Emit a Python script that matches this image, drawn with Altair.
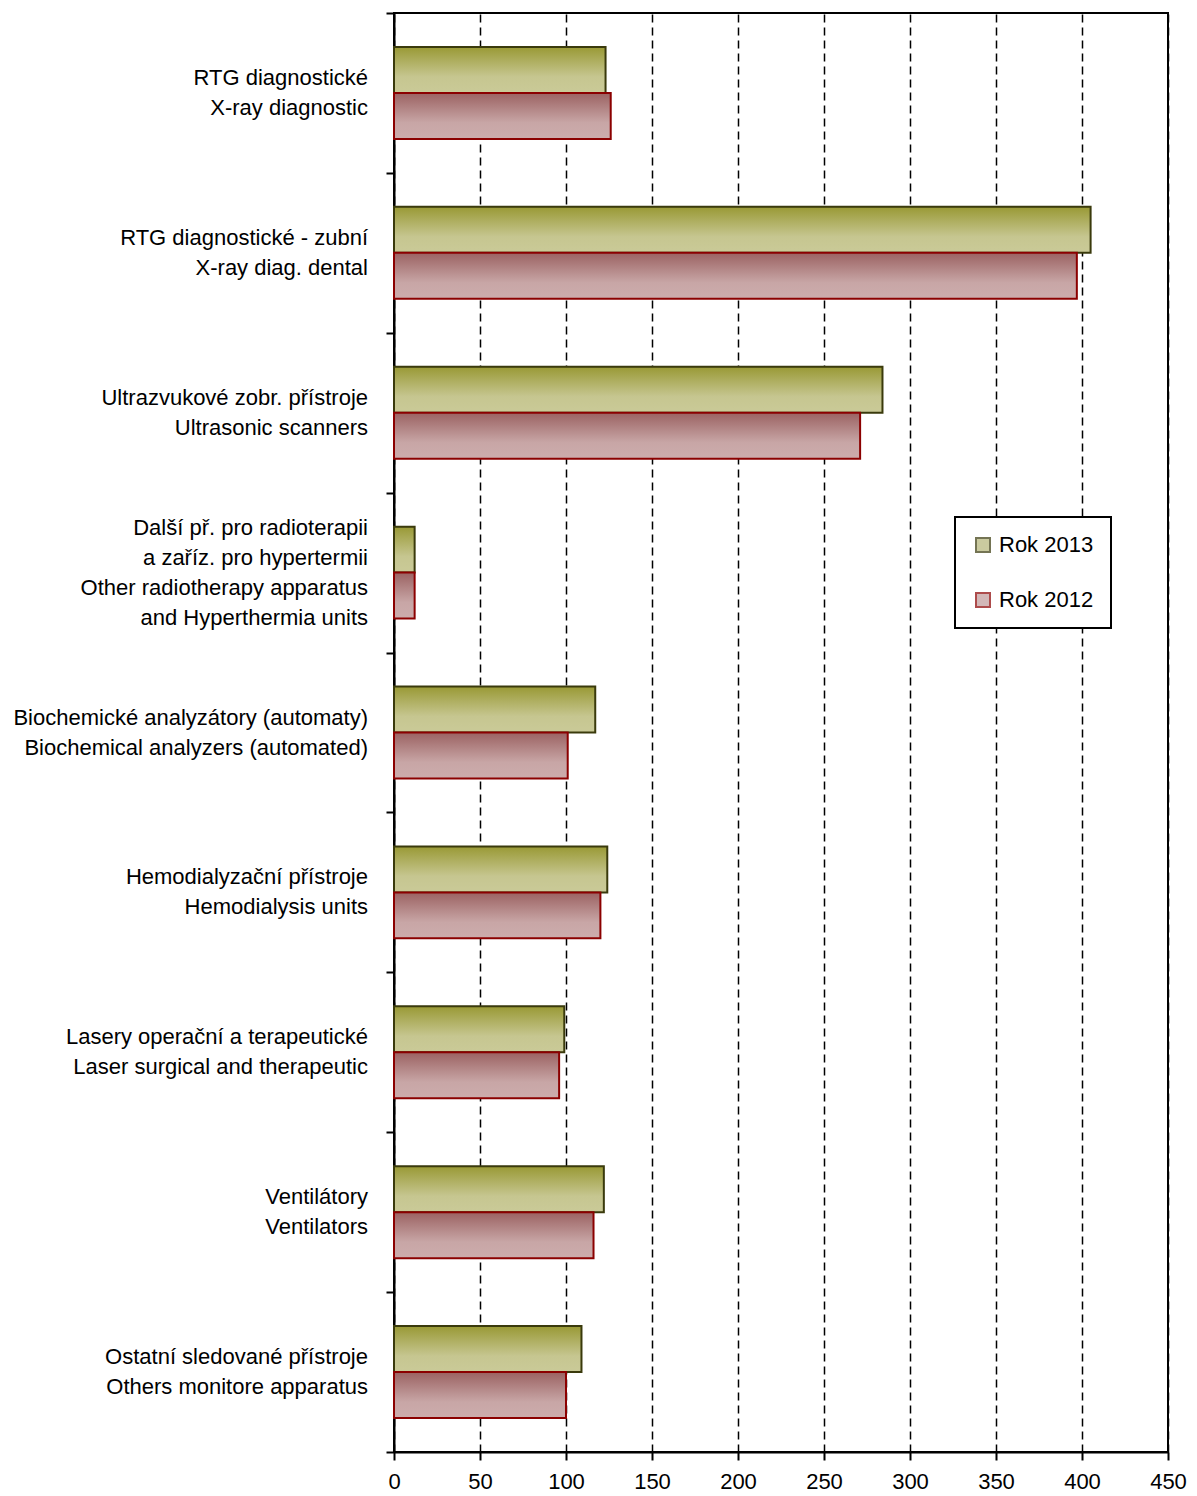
import altair as alt
import pandas as pd

categories = [
    "RTG diagnostické|X-ray diagnostic",
    "RTG diagnostické - zubní|X-ray diag. dental",
    "Ultrazvukové zobr. přístroje|Ultrasonic scanners",
    "Další př. pro radioterapii|a zaříz. pro hypertermii|Other radiotherapy apparatus|and Hyperthermia units",
    "Biochemické analyzátory (automaty)|Biochemical analyzers (automated)",
    "Hemodialyzační přístroje|Hemodialysis units",
    "Lasery operační a terapeutické|Laser surgical and therapeutic",
    "Ventilátory|Ventilators",
    "Ostatní sledované přístroje|Others monitore apparatus",
]
series = ["Rok 2013", "Rok 2012"]
values_2013 = [123, 405, 284, 12, 117, 124, 99, 122, 109]
values_2012 = [126, 397, 271, 12, 101, 120, 96, 116, 100]
x_ticks = [0, 50, 100, 150, 200, 250, 300, 350, 400, 450]

rows = []
for c, v13, v12 in zip(categories, values_2013, values_2012):
    rows.append({"category": c, "series": "Rok 2013", "value": v13})
    rows.append({"category": c, "series": "Rok 2012", "value": v12})
df = pd.DataFrame(rows)
df_cat = pd.DataFrame({"category": categories})

FONT = "Liberation Sans, Arial, sans-serif"
FS = 22
LH = 30

y_scale = alt.Scale(domain=categories, paddingInner=0, paddingOuter=0)

y_enc = alt.Y(
    "category:N",
    sort=categories,
    scale=y_scale,
    axis=alt.Axis(
        title=None,
        labels=False,
        tickBand="extent",
        tickSize=8,
        grid=False,
    ),
)
x_enc = alt.X(
    "value:Q",
    scale=alt.Scale(domain=[0, 450], nice=False, zero=True),
    axis=alt.Axis(
        title=None,
        values=x_ticks,
        tickSize=8,
        labelFontSize=FS,
        labelPadding=11,
        labelFlush=False,
        grid=True,
        gridDash=[8, 5],
        gridColor="black",
        gridWidth=1.5,
    ),
)
yoff_enc = alt.YOffset(
    "series:N",
    scale=alt.Scale(domain=series, paddingInner=0, paddingOuter=0.739),
)

grad_2013 = alt.Gradient(
    gradient="linear",
    stops=[
        alt.GradientStop(color="#999935", offset=0),
        alt.GradientStop(color="#c6c690", offset=0.65),
        alt.GradientStop(color="#caca98", offset=1),
    ],
    x1=0, x2=0, y1=0, y2=1,
)
grad_2012 = alt.Gradient(
    gradient="linear",
    stops=[
        alt.GradientStop(color="#9b6262", offset=0),
        alt.GradientStop(color="#c8a6a6", offset=0.65),
        alt.GradientStop(color="#ccacac", offset=1),
    ],
    x1=0, x2=0, y1=0, y2=1,
)

base = alt.Chart(df)

bars_2013 = base.transform_filter(alt.datum.series == "Rok 2013").mark_bar(
    fill=grad_2013, stroke="#3a3a0c", strokeWidth=2
).encode(x=x_enc, y=y_enc, yOffset=yoff_enc)

bars_2012 = base.transform_filter(alt.datum.series == "Rok 2012").mark_bar(
    fill=grad_2012, stroke="#8b0000", strokeWidth=2
).encode(x=x_enc, y=y_enc, yOffset=yoff_enc)

legend = alt.Legend(
    title=None,
    orient="none",
    legendX=561,
    legendY=504,
    direction="vertical",
    symbolType="square",
    symbolSize=196,
    symbolStrokeWidth=2,
    labelFontSize=FS,
    labelOffset=5,
    rowPadding=33,
    padding=17,
    strokeColor="black",
    fillColor="white",
    labelColor="black",
)

legend_layer = base.mark_point(
    shape="square", filled=True, size=196, clip=True, strokeWidth=2
).encode(
    x=alt.datum(-1000),
    y=alt.Y("category:N", sort=categories),
    fill=alt.Fill("series:N", scale=alt.Scale(domain=series, range=["#b5b577", "#c09a9a"]), legend=legend),
    stroke=alt.Stroke("series:N", scale=alt.Scale(domain=series, range=["#3a3a0c", "#8b0000"]), legend=legend),
)

# category labels: one text layer per line count so the multi-line block is centred on its band
label_layers = []
for n in sorted({c.count("|") + 1 for c in categories}):
    label_layers.append(
        alt.Chart(df_cat).transform_calculate(
            lines="split(datum.category, '|')",
            nlines="length(split(datum.category, '|'))",
        ).transform_filter(
            alt.datum.nlines == n
        ).mark_text(
            align="right", baseline="middle", lineHeight=LH, fontSize=FS,
            dx=-26, dy=-(n - 1) * LH / 2, color="black",
        ).encode(
            x=alt.datum(0),
            y=alt.Y("category:N", sort=categories),
            text="lines:N",
        )
    )

chart = alt.layer(legend_layer, bars_2013, bars_2012, *label_layers).properties(
    width=774,
    height=1439,
    autosize=alt.AutoSizeParams(type="none"),
    padding={"left": 386, "top": 5, "right": 21, "bottom": 40},
).configure(
    font=FONT,
).configure_axis(
    domainColor="black",
    domainWidth=2,
    tickColor="black",
    tickWidth=2,
    labelColor="black",
    labelFont=FONT,
).configure_legend(
    labelFont=FONT,
    strokeWidth=2,
).configure_text(
    font=FONT,
).configure_view(
    stroke="black",
    strokeWidth=2,
)

chart.save("out.html", embed_options={"renderer": "svg", "actions": False})
